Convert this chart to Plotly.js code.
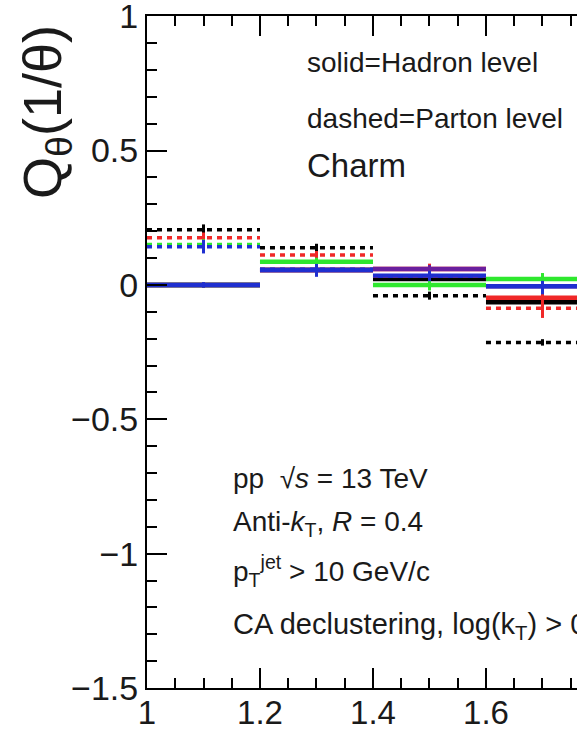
<!DOCTYPE html>
<html>
<head>
<meta charset="utf-8">
<script src="https://cdn.plot.ly/plotly-3.0.1.min.js"></script>
<style>
  html, body { margin: 0; padding: 0; background: #fff; overflow: hidden; }
  #chart { width: 577px; height: 731px; }
</style>
</head>
<body>
<div id="chart"></div>
<script>
// Bin edges of the 1/theta axis
const binEdges = [1.0, 1.2, 1.4, 1.6, 1.8];

// Hadron level (solid) values per series
const hadronBlack  = [0.000, 0.055, 0.022, -0.065];
const hadronRed    = [0.000, 0.055, 0.059, -0.048];
const hadronGreen  = [0.000, 0.086, 0.000, 0.022];
const hadronPurple = [0.000, 0.055, 0.059, -0.005];
const hadronBlue   = [0.000, 0.055, 0.034, -0.005];

// Parton level (dashed) values per series
const partonBlack = [0.205, 0.138, -0.040, -0.214];
const partonRed   = [0.175, 0.111, 0.034, -0.087];
const partonGreen = [0.150, 0.086, 0.000, 0.022];
const partonBlue  = [0.142, 0.058, 0.034, -0.005];

// Statistical uncertainties
const hadronBlackErr  = [0.010, 0.015, 0.040, 0.015];
const hadronRedErr    = [0.010, 0.015, 0.020, 0.075];
const hadronGreenErr  = [0.010, 0.015, 0.020, 0.022];
const hadronPurpleErr = [0.010, 0.015, 0.015, 0.015];
const hadronBlueErr   = [0.010, 0.025, 0.020, 0.030];
const partonBlackErr  = [0.020, 0.015, 0.015, 0.012];
const partonRedErr    = [0.020, 0.015, 0.020, 0.030];
const partonGreenErr  = [0.020, 0.015, 0.020, 0.020];
const partonBlueErr   = [0.025, 0.020, 0.020, 0.020];

const COL = {
  black: '#000000',
  red: '#f02828',
  green: '#2ee82e',
  blue: '#1f2fd0',
  purple: '#6a1f9e'
};

// Horizontal step segments, one per bin, without vertical joins
function stepTrace(vals, color, dashed) {
  const xs = [], ys = [];
  for (let i = 0; i < vals.length; i++) {
    xs.push(binEdges[i], binEdges[i + 1], null);
    ys.push(vals[i], vals[i], null);
  }
  return {
    type: 'scatter', mode: 'lines', x: xs, y: ys,
    line: { color: color, width: dashed ? 3.5 : 4.5, dash: dashed ? '5px,5px' : 'solid' },
    hoverinfo: 'skip', showlegend: false
  };
}

// Vertical error bars at bin centres
function errTrace(vals, errs, color) {
  const centers = vals.map((_, i) => 0.5 * (binEdges[i] + binEdges[i + 1]));
  return {
    type: 'scatter', mode: 'markers', x: centers, y: vals,
    marker: { size: 1, color: color, opacity: 0 },
    error_y: { type: 'data', array: errs, visible: true, color: color, thickness: 3, width: 0 },
    hoverinfo: 'skip', showlegend: false
  };
}

const traces = [
  stepTrace(hadronBlack, COL.black, false),
  stepTrace(hadronRed, COL.red, false),
  stepTrace(hadronGreen, COL.green, false),
  stepTrace(hadronPurple, COL.purple, false),
  stepTrace(hadronBlue, COL.blue, false),
  stepTrace(partonBlack, COL.black, true),
  stepTrace(partonRed, COL.red, true),
  stepTrace(partonGreen, COL.green, true),
  stepTrace(partonBlue, COL.blue, true),
  errTrace(hadronBlack, hadronBlackErr, COL.black),
  errTrace(hadronRed, hadronRedErr, COL.red),
  errTrace(hadronGreen, hadronGreenErr, COL.green),
  errTrace(hadronPurple, hadronPurpleErr, COL.purple),
  errTrace(hadronBlue, hadronBlueErr, COL.blue),
  errTrace(partonBlack, partonBlackErr, COL.black),
  errTrace(partonRed, partonRedErr, COL.red),
  errTrace(partonGreen, partonGreenErr, COL.green),
  errTrace(partonBlue, partonBlueErr, COL.blue)
];

const FONT = 'Liberation Sans, Arial, Helvetica, sans-serif';
const TXT = '#1a1a1a';

function label(x, y, text, size) {
  return {
    xref: 'x', yref: 'y', x: x, y: y, text: text, showarrow: false,
    xanchor: 'left', yanchor: 'middle',
    font: { family: FONT, size: size, color: TXT }
  };
}

const layout = {
  width: 577, height: 731,
  margin: { l: 147, r: 0, t: 16, b: 43 },
  paper_bgcolor: '#ffffff', plot_bgcolor: '#ffffff',
  showlegend: false,
  font: { family: FONT, color: TXT },
  xaxis: {
    range: [1, 1.7611], tick0: 1, dtick: 0.2,
    ticks: 'inside', ticklen: 20, tickwidth: 2, tickcolor: '#000',
    minor: { dtick: 0.05, ticks: 'inside', ticklen: 10, tickwidth: 2, tickcolor: '#000' },
    showline: true, linecolor: '#000', linewidth: 2, mirror: 'ticks',
    showgrid: false, zeroline: false,
    ticklabelstandoff: -6,
    ticklabeloverflow: 'allow',
    tickfont: { family: FONT, size: 33, color: TXT }
  },
  yaxis: {
    range: [-1.5, 1.0005], tick0: 0, dtick: 0.5,
    ticks: 'inside', ticklen: 20, tickwidth: 2, tickcolor: '#000',
    minor: { dtick: 0.1, ticks: 'inside', ticklen: 10, tickwidth: 2, tickcolor: '#000' },
    showline: true, linecolor: '#000', linewidth: 2, mirror: false,
    showgrid: false, zeroline: false,
    ticklabeloverflow: 'allow',
    tickfont: { family: FONT, size: 34, color: TXT }
  },
  annotations: [
    {
      xref: 'paper', yref: 'paper', x: -0.235, y: 0.857,
      text: 'Q<sub>θ</sub>(1/θ)', textangle: -90, showarrow: false,
      xanchor: 'center', yanchor: 'middle',
      font: { family: FONT, size: 54, color: TXT }
    },
    label(1.28, 0.829, 'solid=Hadron level', 28),
    label(1.28, 0.620, 'dashed=Parton level', 28),
    label(1.28, 0.445, 'Charm', 33),
    label(1.149, -0.719, 'pp  √<i>s</i> = 13 TeV', 28),
    label(1.149, -0.888, 'Anti-<i>k</i><sub>T</sub>, <i>R</i> = 0.4', 28),
    label(1.149, -1.066, 'p<sub>T</sub><sup>jet</sup> > 10 GeV/c', 28),
    label(1.149, -1.268, 'CA declustering, log(k<sub>T</sub>) > 0', 29)
  ]
};

Plotly.newPlot('chart', traces, layout, { staticPlot: true, displayModeBar: false });
</script>
</body>
</html>
